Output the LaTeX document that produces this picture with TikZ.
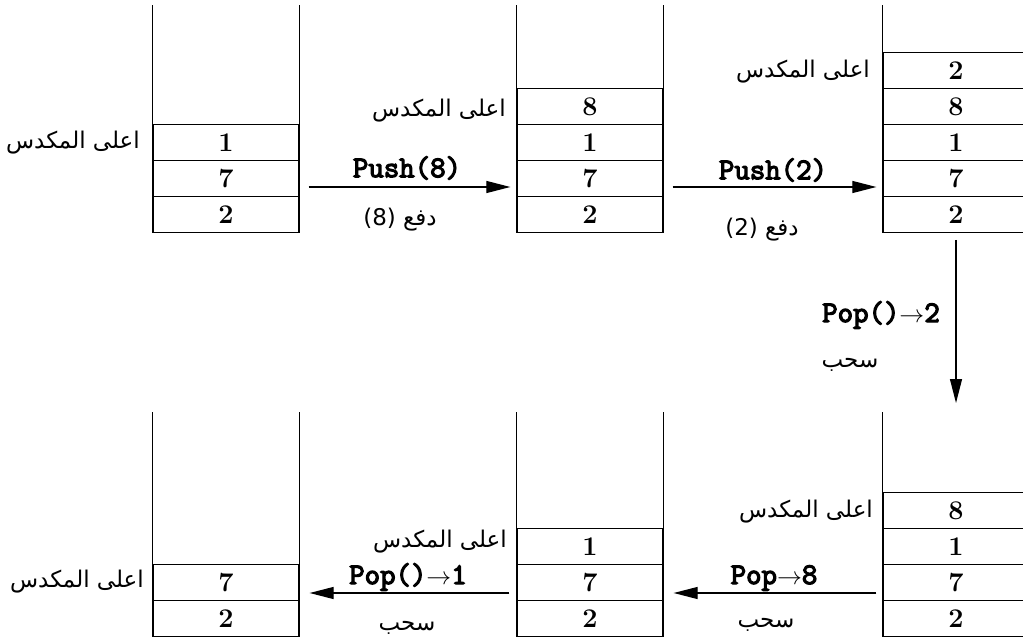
\documentclass[tikz,border=0pt]{standalone}
\usepackage{fontspec}
\usetikzlibrary{arrows.meta}
\newfontfamily\arabicfont[Script=Arabic]{DejaVu Sans}
\newfontfamily\codefont[FakeBold=4]{Latin Modern Mono}
\TeXXeTstate=1
\tikzset{
  cell/.style={draw, line width=1.3pt, minimum width=146pt, minimum height=36pt,
    inner sep=0pt, anchor=south, font=\fontsize{27}{27}\selectfont\bfseries},
  side/.style={line width=1.3pt},
  arr/.style={line width=1.2pt, -{Triangle[length=24pt,width=12pt]}},
  artext/.style={font=\fontsize{23}{23}\arabicfont, inner sep=0pt},
  code/.style={font=\fontsize{30}{30}\codefont, inner sep=0pt}
}
\begin{document}
\begin{tikzpicture}[x=1pt,y=-1pt]
\useasboundingbox (0,0) rectangle (1023,639);
\clip (0,0) rectangle (1023,639);
% ---------- stack 1 (top left)
\node[cell] (a1) at (226,233) {2};
\node[cell] (a2) at (226,197) {7};
\node[cell] (a3) at (226,161) {1};
\draw[side] (a3.north west) -- (a3.north west |- 0,5);
\draw[side] (a3.north east) -- (a3.north east |- 0,5);
% ---------- stack 2 (top middle)
\node[cell] (b1) at (590,233) {2};
\node[cell] (b2) at (590,197) {7};
\node[cell] (b3) at (590,161) {1};
\node[cell] (b4) at (590,125) {8};
\draw[side] (b4.north west) -- (b4.north west |- 0,5);
\draw[side] (b4.north east) -- (b4.north east |- 0,5);
% ---------- stack 3 (top right)
\node[cell] (c1) at (956,233) {2};
\node[cell] (c2) at (956,197) {7};
\node[cell] (c3) at (956,161) {1};
\node[cell] (c4) at (956,125) {8};
\node[cell] (c5) at (956,89) {2};
\draw[side] (c5.north west) -- (c5.north west |- 0,5);
\draw[side] (c5.north east) -- (c5.north east |- 0,5);
% ---------- stack 6 (bottom right)
\node[cell] (f1) at (956,637) {2};
\node[cell] (f2) at (956,601) {7};
\node[cell] (f3) at (956,565) {1};
\node[cell] (f4) at (956,529) {8};
\draw[side] (f4.north west) -- (f4.north west |- 0,412);
\draw[side] (f4.north east) -- (f4.north east |- 0,412);
\coordinate (f4top) at (f4.north |- 0,412);
% ---------- stack 5 (bottom middle)
\node[cell] (e1) at (590,637) {2};
\node[cell] (e2) at (590,601) {7};
\node[cell] (e3) at (590,565) {1};
\draw[side] (e3.north west) -- (e3.north west |- 0,412);
\draw[side] (e3.north east) -- (e3.north east |- 0,412);
% ---------- stack 4 (bottom left)
\node[cell] (d1) at (226,637) {2};
\node[cell] (d2) at (226,601) {7};
\draw[side] (d2.north west) -- (d2.north west |- 0,412);
\draw[side] (d2.north east) -- (d2.north east |- 0,412);
% ---------- top-of-stack labels
\node[artext] (ta) at (73,143) {\beginR اعلى المكدس\endR};
\node[artext] (tb) at (439,111) {\beginR اعلى المكدس\endR};
\node[artext] (tc) at (803,72) {\beginR اعلى المكدس\endR};
\node[artext] (tf) at (806,512) {\beginR اعلى المكدس\endR};
\node[artext] (te) at (440,542) {\beginR اعلى المكدس\endR};
\node[artext] (td) at (77,582) {\beginR اعلى المكدس\endR};
% ---------- arrows
\draw[arr] ([xshift=9pt,yshift=10pt]a2.south east) -- ([xshift=-6pt,yshift=10pt]b2.south west);
\draw[arr] ([xshift=9pt,yshift=10pt]b2.south east) -- ([xshift=-6pt,yshift=10pt]c2.south west);
\draw[arr] ([yshift=-7pt]c1.south) -- ([yshift=9pt]f4top);
\draw[arr] ([xshift=-6pt,yshift=8pt]f2.south west) -- ([xshift=10pt,yshift=8pt]e2.south east);
\draw[arr] ([xshift=-7pt,yshift=8pt]e2.south west) -- ([xshift=10pt,yshift=8pt]d2.south east);
% ---------- operation labels
\node[code] (p8) at (407,168) {Push(8)};
\node[artext] (p8a) at (400,220) {(8) \beginR دفع\endR};
\node[code] (p2) at (773,170) {Push(2)};
\node[artext] (p2a) at (762,230) {(2) \beginR دفع\endR};
\node[code] (o2) at (881,315) {Pop()$\rightarrow$2};
\node[artext] (o2a) at (850,365) {\beginR سحب\endR};
\node[code] (o8) at (774,578) {Pop$\rightarrow$8};
\node[artext] (o8a) at (766,625) {\beginR سحب\endR};
\node[code] (o1) at (408,577) {Pop()$\rightarrow$1};
\node[artext] (o1a) at (407,628) {\beginR سحب\endR};
\end{tikzpicture}
\end{document}
